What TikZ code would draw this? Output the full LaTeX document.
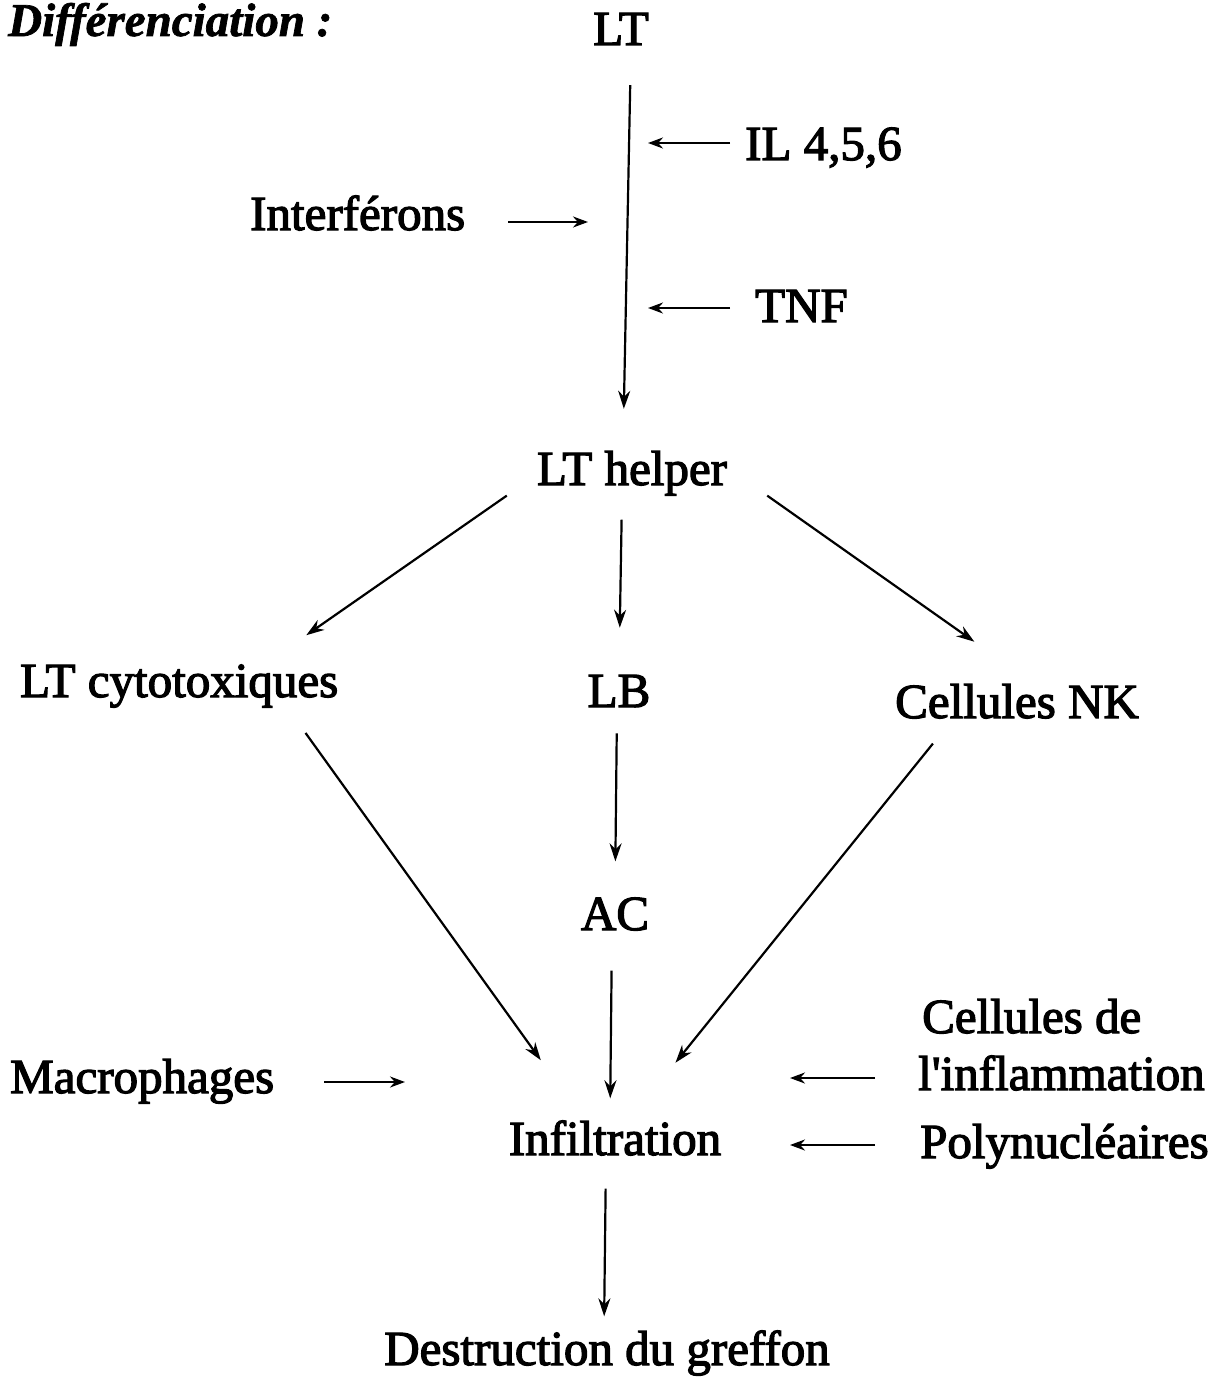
\documentclass[tikz,border=0pt]{standalone}
\usepackage{fontspec}
\setmainfont{Liberation Serif}[FakeBold=2.5]
\newfontfamily\titlefont{Liberation Serif Bold Italic}[FakeBold=1.5]
\usetikzlibrary{arrows.meta,calc}
\begin{document}
\begin{tikzpicture}[x=1pt,y=-1pt,
  lbl/.style={inner sep=0pt,anchor=base,font=\fontsize{49}{58}\selectfont},
  arr/.style={line width=2.2pt,-{Stealth[length=18pt,width=12pt]}},
  side/.style={line width=2.2pt,-{Stealth[length=15pt,width=11pt]}}]
\useasboundingbox (0,0) rectangle (1209,1388);
% nodes
\node[inner sep=0pt,anchor=base west,font=\fontsize{47}{54}\titlefont] (titre) at (8,36) {Différenciation :};
\node[lbl] (lt) at (621,45) {LT};
\node[lbl,anchor=base west] (il) at (745,160) {IL 4,5,6};
\node[lbl,anchor=base west] (ifn) at (250,230) {Interférons};
\node[lbl,anchor=base west] (tnf) at (755,322) {TNF};
\node[lbl] (helper) at (632,485) {LT helper};
\node[lbl,anchor=base west] (cyto) at (20,697) {LT cytotoxiques};
\node[lbl] (lb) at (619,707) {LB};
\node[lbl,anchor=base west] (nk) at (895,718) {Cellules NK};
\node[lbl] (ac) at (615,930) {AC};
\node[lbl,anchor=base west] (macro) at (10,1093) {Macrophages};
\node[lbl,anchor=base west] (cdl) at (922,1033) {Cellules de};
\node[lbl,anchor=base west] (infl) at (918,1090) {l\textquotesingle inflammation};
\node[lbl] (infil) at (615,1155) {Infiltration};
\node[lbl,anchor=base west] (poly) at (920,1158) {Polynucléaires};
\node[lbl] (destr) at (607,1365) {Destruction du greffon};
% points where side arrows end
\coordinate (cil) at (648,143);
\coordinate (cifn) at (588,222);
\coordinate (ctnf) at (648,308);
\coordinate (cmac) at (405,1082);
\coordinate (cinfl) at (790,1078);
\coordinate (cpoly) at (790,1145);
% main arrows
\draw[arr,shorten <=40pt,shorten >=42pt] ([xshift=10pt]lt.south) -- ([xshift=-9pt]helper.north);
\draw[arr,shorten >=51pt] ([xshift=-30pt]helper.south west) -- ([xshift=-74pt]cyto.north east);
\draw[arr,shorten <=24pt,shorten >=47pt] ([xshift=-10pt]helper.south) -- (lb.north);
\draw[arr,shorten >=73pt] ([xshift=40pt]helper.south east) -- ([xshift=17pt]nk.north);
\draw[arr,shorten <=31pt,shorten >=74pt] ([xshift=-51pt]cyto.south east) -- ([xshift=-31pt]infil.north);
\draw[arr,shorten <=26pt,shorten >=36pt] ([xshift=-2pt]lb.south) -- (ac.north);
\draw[arr,shorten <=32pt,shorten >=74pt] ([xshift=-64pt]nk.south) -- ([xshift=14pt]infil.north);
\draw[arr,shorten <=40pt,shorten >=22pt] ([xshift=-3pt]ac.south) -- ([xshift=-5pt]infil.north);
\draw[arr,shorten <=33pt,shorten >=14pt] ([xshift=-9pt]infil.south) -- ([xshift=-3pt]destr.north);
% side arrows
\draw[side] ([xshift=-15pt]il.west |- cil) -- (cil);
\draw[side] ([xshift=43pt]ifn.east |- cifn) -- (cifn);
\draw[side] ([xshift=-25pt]tnf.west |- ctnf) -- (ctnf);
\draw[side] ([xshift=50pt]macro.east |- cmac) -- (cmac);
\draw[side] ([xshift=-43pt]infl.west |- cinfl) -- (cinfl);
\draw[side] ([xshift=-45pt]poly.west |- cpoly) -- (cpoly);
\end{tikzpicture}
\end{document}
